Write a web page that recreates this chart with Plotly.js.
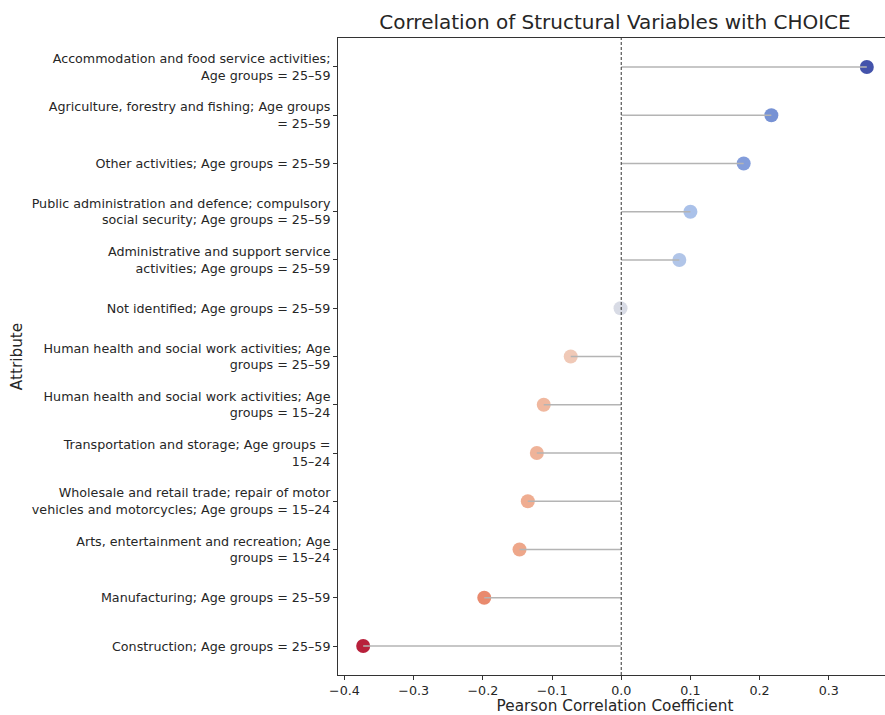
<!DOCTYPE html>
<html>
<head>
<meta charset="utf-8">
<script src="https://cdn.plot.ly/plotly-3.0.1.min.js"></script>
<style>
html, body { margin:0; padding:0; overflow:hidden; background:#fff; }
#chart { width:892px; height:715px; }
</style>
</head>
<body>
<div id="chart"></div>
<script>
const categories = [
  "Accommodation and food service activities;<br>Age groups = 25–59",
  "Agriculture, forestry and fishing; Age groups<br>= 25–59",
  "Other activities; Age groups = 25–59",
  "Public administration and defence; compulsory<br>social security; Age groups = 25–59",
  "Administrative and support service<br>activities; Age groups = 25–59",
  "Not identified; Age groups = 25–59",
  "Human health and social work activities; Age<br>groups = 25–59",
  "Human health and social work activities; Age<br>groups = 15–24",
  "Transportation and storage; Age groups =<br>15–24",
  "Wholesale and retail trade; repair of motor<br>vehicles and motorcycles; Age groups = 15–24",
  "Arts, entertainment and recreation; Age<br>groups = 15–24",
  "Manufacturing; Age groups = 25–59",
  "Construction; Age groups = 25–59"
];
const correlations = [0.355, 0.217, 0.177, 0.100, 0.084, -0.001, -0.073, -0.112, -0.122, -0.135, -0.147, -0.198, -0.373];
const xTickValues = [-0.4, -0.3, -0.2, -0.1, 0.0, 0.1, 0.2, 0.3];
const xTickLabels = ["−0.4", "−0.3", "−0.2", "−0.1", "0.0", "0.1", "0.2", "0.3"];

// coolwarm reversed (high = blue, low = red), as rendered in the reference
const colorScale = [
  [0.00, 'rgb(180,20,48)'], [0.12, 'rgb(214,80,70)'], [0.24, 'rgb(232,132,102)'],
  [0.33, 'rgb(238,170,140)'], [0.41, 'rgb(240,198,178)'], [0.51, 'rgb(214,217,228)'],
  [0.65, 'rgb(165,190,232)'], [0.76, 'rgb(122,150,216)'], [0.81, 'rgb(112,140,210)'],
  [1.00, 'rgb(58,74,166)']
];

const idx = categories.map((c, i) => i);
const lineX = [], lineY = [];
correlations.forEach((v, i) => { lineX.push(0, v, null); lineY.push(i, i, null); });

const vmin = Math.min(...correlations), vmax = Math.max(...correlations);
const pad = 0.05 * (vmax - vmin);

const traces = [
  {
    type: 'scatter', mode: 'markers', x: correlations, y: idx,
    marker: { size: 14, color: correlations, colorscale: colorScale, cmin: vmin, cmax: vmax,
              opacity: 0.95, line: { width: 0 } },
    hoverinfo: 'x+y', showlegend: false
  },
  {
    type: 'scatter', mode: 'lines', x: lineX, y: lineY,
    line: { color: '#b4b4b4', width: 1.5 }, hoverinfo: 'skip', showlegend: false
  }
];

const layout = {
  width: 892, height: 715,
  margin: { l: 338, r: 0, t: 38, b: 40 },
  paper_bgcolor: '#fff', plot_bgcolor: '#fff',
  font: { family: 'DejaVu Sans, sans-serif', color: '#262626', size: 12.7 },
  title: { text: 'Correlation of Structural Variables with CHOICE', x: 0.5, xref: 'paper', xanchor: 'center',
           y: 1 - 22/715, yref: 'container', yanchor: 'middle', font: { size: 20, color: '#262626' } },
  xaxis: {
    range: [vmin - pad, vmax + pad],
    tickvals: xTickValues, ticktext: xTickLabels,
    ticks: 'outside', ticklen: 4, tickwidth: 1, tickcolor: '#333',
    showline: true, linecolor: '#333', linewidth: 1, mirror: true,
    showgrid: false, zeroline: false,
    tickfont: { size: 12.7 },
    title: { text: 'Pearson Correlation Coefficient', font: { size: 15.3 }, standoff: 8 }
  },
  yaxis: {
    range: [categories.length - 0.4, -0.6],
    tickvals: idx, ticktext: categories,
    ticks: 'outside', ticklen: 4, tickwidth: 1, tickcolor: '#333',
    showline: true, linecolor: '#333', linewidth: 1, mirror: true,
    showgrid: false, zeroline: false,
    tickfont: { size: 12.7 },
    title: { text: 'Attribute', font: { size: 15.3 }, standoff: 5 }
  },
  shapes: [
    { type: 'line', xref: 'x', yref: 'paper', x0: 0, x1: 0, y0: 0, y1: 1,
      line: { color: '#333', width: 1, dash: '3px,2px' } }
  ]
};

Plotly.newPlot('chart', traces, layout, { displayModeBar: false, staticPlot: true });
</script>
</body>
</html>
